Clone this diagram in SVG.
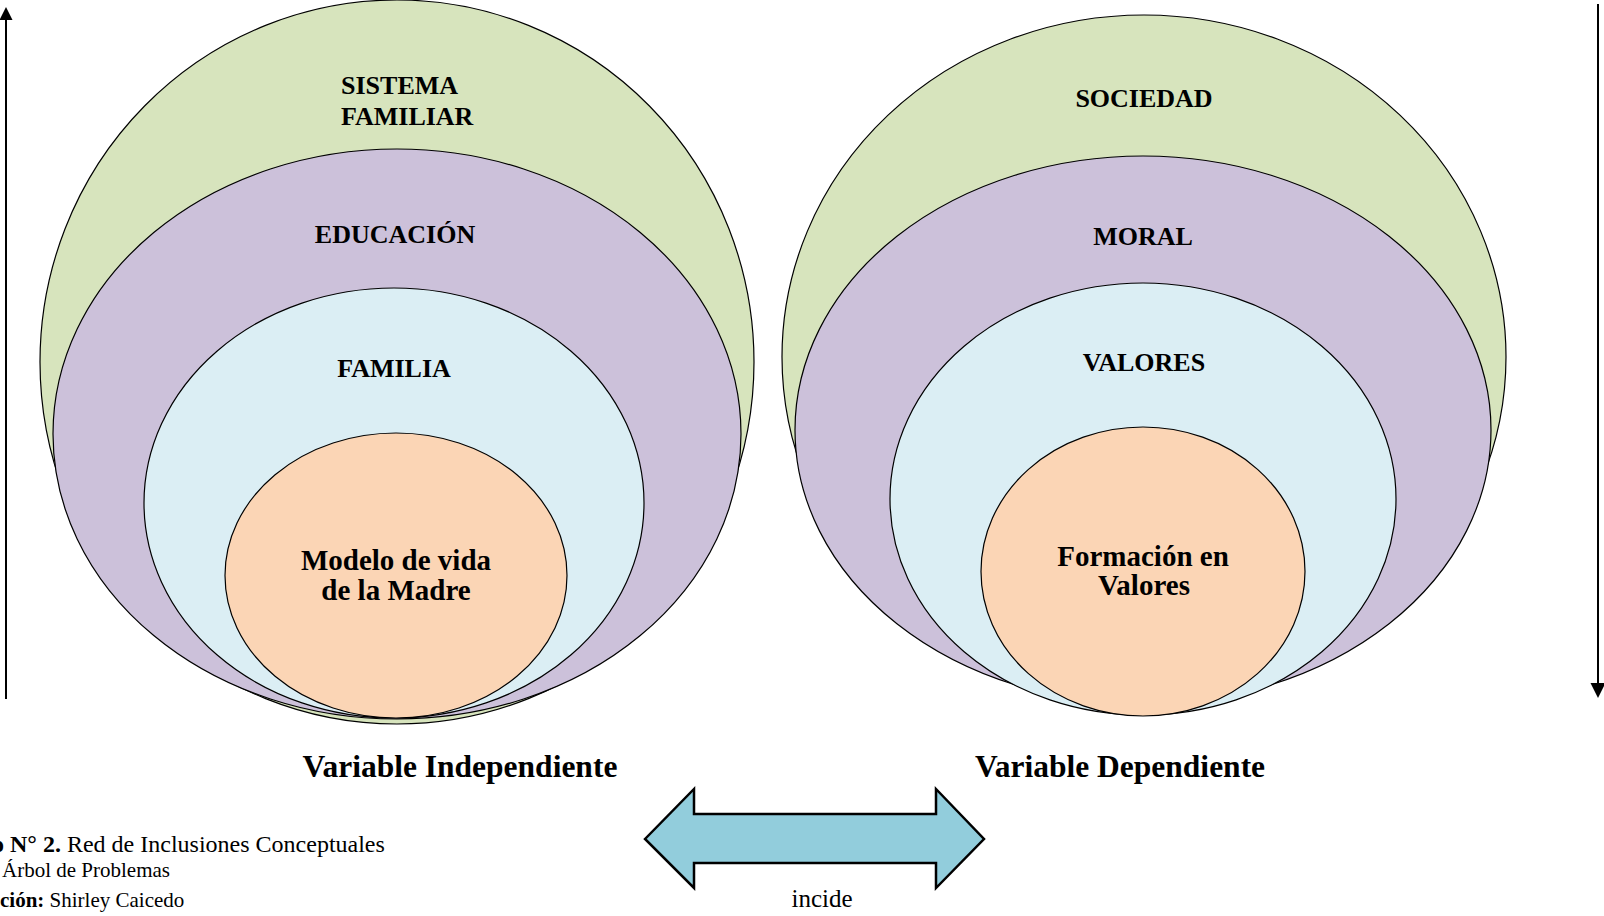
<svg xmlns="http://www.w3.org/2000/svg" width="1604" height="916" viewBox="0 0 1604 916">
<style>
.e{stroke:#000;stroke-width:1.2}
.g{fill:#D7E4BD}.p{fill:#CCC1DA}.b{fill:#DBEEF4}.o{fill:#FBD5B5}
.t{font-family:"Liberation Serif","Times New Roman",serif;font-weight:bold;font-size:26px;fill:#000}
.c{text-anchor:middle}
.m{font-size:29px}
.v{font-size:31.5px}
.r{font-family:"Liberation Serif","Times New Roman",serif;fill:#000}
</style>
<rect width="1604" height="916" fill="#fff"/>
<g id="connectors">
<line x1="6" y1="699" x2="6" y2="19" stroke="#000" stroke-width="2"/>
<polygon points="6,7 -0.5,20 12.5,20" fill="#000"/>
<line x1="1598" y1="4" x2="1598" y2="684" stroke="#000" stroke-width="2"/>
<polygon points="1590.5,683 1605.5,683 1598,698" fill="#000"/>
</g>
<g id="sistema-familiar"><ellipse class="e g" cx="397" cy="362" rx="357" ry="362"/><text class="t" x="341" y="94">SISTEMA</text><text class="t" x="341" y="125">FAMILIAR</text></g>
<g id="educacion"><ellipse class="e p" cx="397" cy="434" rx="344" ry="285"/><text class="t c" x="395" y="243">EDUCACIÓN</text></g>
<g id="familia"><ellipse class="e b" cx="394" cy="503" rx="250" ry="215"/><text class="t c" x="394" y="377">FAMILIA</text></g>
<g id="modelo"><ellipse class="e o" cx="396" cy="575.5" rx="171" ry="142.5"/><text class="t c m" x="396" y="570">Modelo de vida</text><text class="t c m" x="396" y="600">de la Madre</text></g>
<g id="sociedad"><ellipse class="e g" cx="1144" cy="357" rx="362" ry="342"/><text class="t c" x="1144" y="107">SOCIEDAD</text></g>
<g id="moral"><ellipse class="e p" cx="1143" cy="430" rx="348" ry="274"/><text class="t c" x="1143" y="245">MORAL</text></g>
<g id="valores"><ellipse class="e b" cx="1143" cy="499" rx="253" ry="216"/><text class="t c" x="1144" y="371">VALORES</text></g>
<g id="formacion"><ellipse class="e o" cx="1143" cy="571.5" rx="162" ry="144.5"/><text class="t c m" x="1143" y="566">Formación en</text><text class="t c m" x="1144" y="595">Valores</text></g>
<g id="labels">
<text class="t c v" x="460" y="777">Variable Independiente</text>
<text class="t c v" x="1120" y="777">Variable Dependiente</text>
</g>
<g id="incide">
<polygon points="645,839 694,789 694,814 936,814 936,789 984,839 936,888 936,863 694,863 694,888" fill="#92CDDC" stroke="#000" stroke-width="2.5" stroke-linejoin="miter"/>
<text class="r c" x="822" y="907" font-size="25">incide</text>
</g>
<g id="caption">
<text class="r" x="-8" y="852" font-size="24"><tspan font-weight="bold">o N° 2.</tspan> Red de Inclusiones Conceptuales</text>
<text class="r" x="2" y="877" font-size="21">Árbol de Problemas</text>
<text class="r" x="0" y="907" font-size="21"><tspan font-weight="bold">ción:</tspan> Shirley Caicedo</text>
</g>
</svg>
